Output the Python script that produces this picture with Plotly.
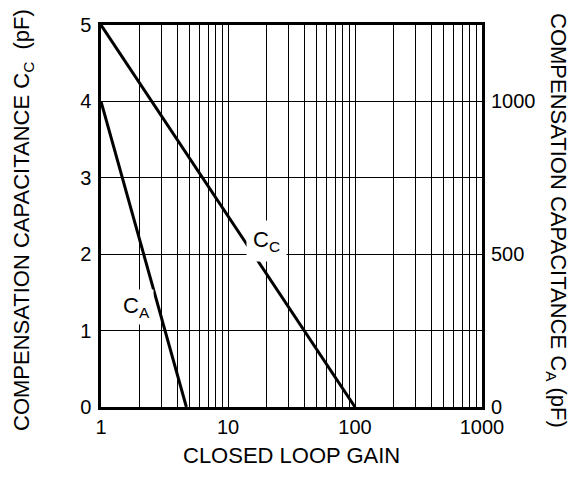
import plotly.graph_objects as go

# Data
cc_gain = [1, 100]
cc_pf = [5, 0]
ca_gain = [1, 4.7]
ca_pf = [1000, 0]

x_major = [1, 10, 100, 1000]
x_major_text = ["1", "10", "100", "1000"]
x_minor = [m * d for d in (1, 10, 100) for m in range(2, 10)]
y_left_ticks = [0, 1, 2, 3, 4, 5]
y_right_ticks = [0, 500, 1000]

FONT = "Liberation Sans, Arial, Helvetica, sans-serif"

fig = go.Figure()
fig.add_trace(go.Scatter(x=cc_gain, y=cc_pf, mode="lines",
                         line=dict(color="black", width=3), yaxis="y", showlegend=False))
fig.add_trace(go.Scatter(x=ca_gain, y=ca_pf, mode="lines",
                         line=dict(color="black", width=3), yaxis="y2", showlegend=False))

fig.update_layout(
    width=568, height=479,
    margin=dict(l=93, r=94, t=17, b=80, autoexpand=False),
    paper_bgcolor="white", plot_bgcolor="white",
    font=dict(family=FONT, size=20, color="black"),
    xaxis=dict(type="log", range=[0, 3], tickvals=x_major, ticktext=x_major_text,
               showgrid=True, gridcolor="black", gridwidth=1,
               minor=dict(tickvals=x_minor, showgrid=True, gridcolor="black", gridwidth=1, ticklen=0),
               showline=True, linecolor="black", linewidth=2.5, mirror=True,
               ticks="", ticklabelstandoff=0, zeroline=False, automargin=False),
    yaxis=dict(range=[0, 5], tickvals=y_left_ticks, showgrid=True, gridcolor="black", gridwidth=1,
               showline=True, linecolor="black", linewidth=2.5, mirror=True,
               ticks="", ticklabelstandoff=3, zeroline=False, automargin=False),
    yaxis2=dict(range=[0, 1250], tickvals=y_right_ticks, overlaying="y", side="right",
                showgrid=False, showline=False, ticks="", ticklabelstandoff=8, zeroline=False,
                automargin=False),
    annotations=[
        dict(text="CLOSED LOOP GAIN", xref="paper", yref="paper", x=0.5, y=0,
             yshift=-48, showarrow=False, font=dict(size=22), xanchor="center", yanchor="middle"),
        dict(text="COMPENSATION CAPACITANCE C<sub>C</sub>  (pF)", xref="paper", yref="paper",
             x=0, xshift=-78, y=0.5, yshift=-4, textangle=-90, showarrow=False, font=dict(size=22),
             xanchor="center", yanchor="middle"),
        dict(text="COMPENSATION CAPACITANCE C<sub>A</sub> (pF)", xref="paper", yref="paper",
             x=1, xshift=75, y=0.5, yshift=-4, textangle=90, showarrow=False, font=dict(size=22),
             xanchor="center", yanchor="middle"),
        dict(text="C<sub>C</sub>", x=1.307, y=2.17, xref="x", yref="y", showarrow=False,
             bgcolor="white", font=dict(size=22), borderpad=6),
        dict(text="C<sub>A</sub>", x=0.276, y=1.31, xref="x", yref="y", showarrow=False,
             bgcolor="white", font=dict(size=22), borderpad=3),
    ],
)

fig.write_html("out.html")
